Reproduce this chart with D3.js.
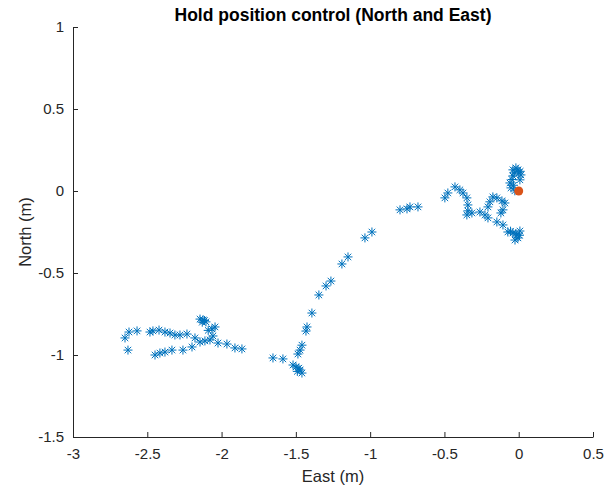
<!DOCTYPE html>
<meta charset="utf-8">
<style>
body { margin: 0; background: #fff; }
text { font-family: "Liberation Sans", Arial, sans-serif; fill: #262626; }
.axis path, .axis line { stroke: #262626; }
</style>
<svg width="614" height="490"></svg>
<script src="https://d3js.org/d3.v7.min.js"></script>
<script>

// East (m) positions of the recorded track
var east = [
  -0.039, -0.005, 0.015, -0.039, -0.059, -0.052, -0.026, -0.019, 0.008,
  -0.030, 0.000, -0.045, -0.035, 0.010,
  -0.073, -0.039, -0.012, 0.008, -0.005, -0.025, -0.106, -0.147,
  -0.020, 0.005, -0.055,
  -0.120, -0.106, -0.093, -0.113, -0.147, -0.174, -0.194, -0.207, -0.207,
  -0.227, -0.261, -0.315, -0.349, -0.342, -0.342, -0.349, -0.375, -0.396,
  -0.429, -0.477, -0.497,
  -0.678, -0.732, -0.752, -0.799, -0.988, -1.035, -1.149, -1.190, -1.264,
  -1.297, -1.345, -1.392, -1.425, -1.432, -1.459, -1.472, -1.486, -1.499,
  -1.519, -1.472, -1.459, -1.480, -1.490, -1.587, -1.654,
  -1.863, -1.910, -1.964, -2.024, -2.058, -2.044, -2.065, -2.125, -2.145,
  -2.130, -2.115, -2.090,
  -2.105, -2.078, -2.112, -2.145, -2.179, -2.199, -2.233, -2.260, -2.280,
  -2.314, -2.334, -2.347, -2.381, -2.381, -2.415, -2.421, -2.448, -2.462,
  -2.482, -2.569, -2.623, -2.650, -2.630
];

// North (m) positions, same order
var north = [
  0.129, 0.129, 0.098, 0.092, 0.049, 0.019, 0.001, 0.141, 0.068,
  0.110, 0.110, 0.070, 0.035, 0.120,
  -0.250, -0.256, -0.268, -0.244, -0.286, -0.299, -0.207, -0.189,
  -0.260, -0.270, -0.245,
  -0.134, -0.115, -0.073, -0.060, -0.042, -0.036, -0.066, -0.097, -0.164,
  -0.146, -0.128, -0.134, -0.146, -0.121, -0.085, -0.042, -0.012, 0.007,
  0.025, -0.012, -0.042,
  -0.097, -0.097, -0.109, -0.115, -0.250, -0.286, -0.402, -0.445, -0.549,
  -0.579, -0.634, -0.744, -0.829, -0.854, -0.940, -0.970, -0.994, -1.073,
  -1.061, -1.091, -1.110, -1.080, -1.100, -1.024, -1.018,
  -0.963, -0.957, -0.933, -0.927, -0.884, -0.829, -0.841, -0.786, -0.781,
  -0.800, -0.790, -0.850,
  -0.798, -0.908, -0.914, -0.921, -0.896, -0.951, -0.872, -0.970, -0.878,
  -0.878, -0.970, -0.866, -0.860, -0.982, -0.988, -0.848, -1.000, -0.853,
  -0.860, -0.853, -0.860, -0.896, -0.970
];

// hold target
var target = [0, 0];

var xTicks = [-3, -2.5, -2, -1.5, -1, -0.5, 0, 0.5];
var yTicks = [-1.5, -1, -0.5, 0, 0.5, 1];

var svg = d3.select("svg");
var plotLeft = 73, plotRight = 593, plotTop = 27, plotBottom = 437;

var x = d3.scaleLinear().domain([-3, 0.5]).range([plotLeft, plotRight]);
var y = d3.scaleLinear().domain([-1.5, 1]).range([plotBottom, plotTop]);

var fmt = function(d) { return String(d); };

svg.append("g")
  .attr("class", "axis")
  .attr("transform", "translate(0," + plotBottom + ")")
  .call(d3.axisBottom(x).tickValues(xTicks).tickFormat(fmt).tickSizeInner(-5).tickSizeOuter(0).tickPadding(11));

svg.append("g")
  .attr("class", "axis")
  .attr("transform", "translate(" + plotLeft + ",0)")
  .call(d3.axisLeft(y).tickValues(yTicks).tickFormat(fmt).tickSizeInner(-5).tickSizeOuter(0).tickPadding(9));

svg.selectAll(".axis text").attr("font-size", 15).attr("font-family", null);

// asterisk marker: + and x combined
var r = 4.5, d = r * 0.72;
var star = "M" + (-r) + ",0L" + r + ",0M0," + (-r) + "L0," + r +
  "M" + (-d) + "," + (-d) + "L" + d + "," + d +
  "M" + (-d) + "," + d + "L" + d + "," + (-d);

svg.append("g")
  .selectAll("path")
  .data(d3.range(east.length))
  .enter().append("path")
  .attr("d", star)
  .attr("transform", function(i) { return "translate(" + x(east[i]) + "," + y(north[i]) + ")"; })
  .attr("stroke", "#0072BD")
  .attr("stroke-width", 1)
  .attr("fill", "none");

svg.append("circle")
  .attr("cx", x(target[0]))
  .attr("cy", y(target[1]))
  .attr("r", 4.5)
  .attr("fill", "#D95319");

svg.append("text")
  .attr("x", (plotLeft + plotRight) / 2)
  .attr("y", 21)
  .attr("text-anchor", "middle")
  .attr("font-size", 17.5)
  .attr("font-weight", "bold")
  .style("fill", "#000")
  .text("Hold position control (North and East)");

svg.append("text")
  .attr("x", (plotLeft + plotRight) / 2)
  .attr("y", 482)
  .attr("text-anchor", "middle")
  .attr("font-size", 16.5)
  .text("East (m)");

svg.append("text")
  .attr("transform", "translate(31," + (plotTop + plotBottom) / 2 + ") rotate(-90)")
  .attr("text-anchor", "middle")
  .attr("font-size", 16.5)
  .text("North (m)");

</script>
